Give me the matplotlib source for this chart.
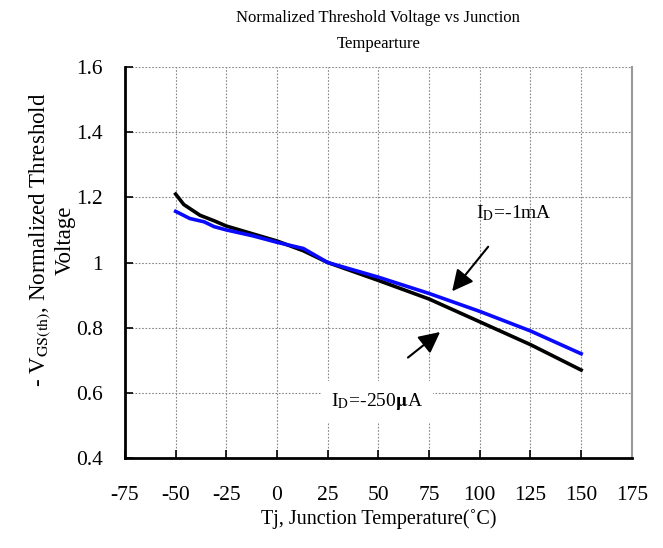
import matplotlib
matplotlib.use("Agg")
import matplotlib.pyplot as plt

plt.rcParams['font.family'] = ['Liberation Serif', 'DejaVu Serif']
plt.rcParams['mathtext.fontset'] = 'stix'
plt.rcParams['axes.unicode_minus'] = False

# I_D = -250uA (black)
t_black = [-50, -46, -38, -31, -25, -12, 0, 13, 25, 50, 75, 100, 125, 150]
v_black = [1.21, 1.178, 1.145, 1.128, 1.112, 1.088, 1.066, 1.036, 1.0, 0.945, 0.888, 0.818, 0.748, 0.67]

# I_D = -1mA (blue)
t_blue = [-50, -43, -36, -31, -25, -12, 0, 13, 25, 50, 75, 100, 125, 150]
v_blue = [1.157, 1.135, 1.125, 1.11, 1.1, 1.082, 1.062, 1.043, 1.0, 0.955, 0.905, 0.85, 0.79, 0.72]

xticks = [-75, -50, -25, 0, 25, 50, 75, 100, 125, 150, 175]
yticks = [0.4, 0.6, 0.8, 1.0, 1.2, 1.4, 1.6]
ylabels = ['0.4', '0.6', '0.8', '1', '1.2', '1.4', '1.6']

fig = plt.figure(figsize=(6.63, 5.48), dpi=100)
ax = fig.add_axes([0.1885, 0.1642, 0.953 - 0.1885, 0.8777 - 0.1642])

ax.plot(t_black, v_black, color='black', lw=2.6, zorder=3)
ax.plot(t_blue, v_blue, color='#0a0aff', lw=2.6, zorder=4)

ax.set_xlim(-75, 175)
ax.set_ylim(0.4, 1.6)
ax.set_xticks(xticks)
ax.set_yticks(yticks)
ax.set_yticklabels(ylabels)
ax.grid(True, color='#888888', ls=(0, (1.5, 1.5)), lw=0.8)
ax.tick_params(direction='in', length=6, width=1.2, labelsize=15.5)
ax.tick_params(axis='y', pad=16)
ax.tick_params(axis='x', pad=20)

for s in ['left', 'bottom']:
    ax.spines[s].set_linewidth(2)
ax.spines['top'].set_visible(False)
ax.spines['right'].set_color('#999999')
ax.spines['right'].set_linewidth(1.5)

ax.set_title('Normalized Threshold Voltage vs Junction\nTempearture', fontsize=12, pad=14, linespacing=1.8)
ax.set_xlabel('Tj, Junction Temperature(˚C)', fontsize=14.5, labelpad=3)
ax.set_ylabel(r'- V$_{\mathrm{GS(th)}}$, Normalized Threshold' + '\nVoltage', fontsize=16.5,
              linespacing=1.15)
ax.yaxis.set_label_coords(-0.097, 0.557)

ax.text(98, 1.152, r'I$_{\mathrm{D}}$=-1mA', fontsize=14, va='center', ha='left', zorder=5)
ax.annotate('', xy=(85.5, 0.905), xytext=(105, 1.055),
            arrowprops=dict(arrowstyle='-|>', color='black', lw=1.5, mutation_scale=32), zorder=5)
ax.annotate('', xy=(81.5, 0.792), xytext=(63.5, 0.703),
            arrowprops=dict(arrowstyle='-|>', color='black', lw=1.5, mutation_scale=32), zorder=5)
ax.text(49.5, 0.573, r'I$_{\mathrm{D}}$=-250$\mathbf{\mu}$A', fontsize=14, va='center', ha='center', zorder=5,
        bbox=dict(facecolor='white', edgecolor='none', pad=7))

fig.savefig('out.png', dpi=100)
